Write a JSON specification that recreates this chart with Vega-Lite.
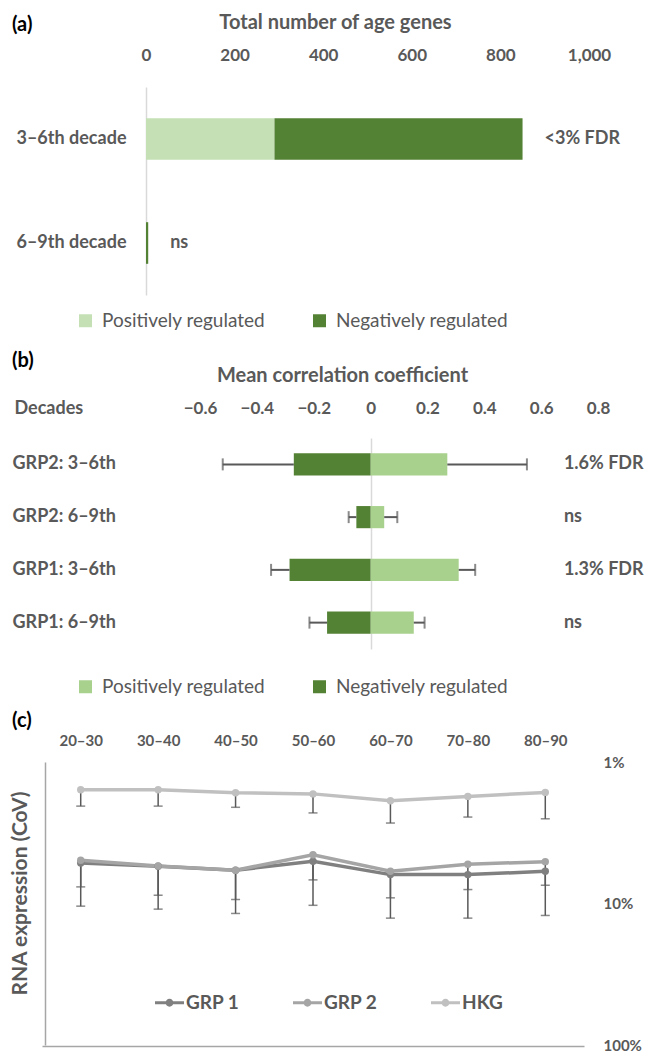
{
  "$schema": "https://vega.github.io/schema/vega-lite/v6.json",
  "background": "white",
  "padding": 0,
  "spacing": 0,
  "bounds": "flush",
  "config": {
    "font": "Lato",
    "view": {"stroke": null},
    "axis": {"grid": false, "ticks": false, "labelFlush": false, "labelColor": "#595959", "titleColor": "#595959", "labelFont": "Lato", "titleFont": "Lato"},
    "legend": {"labelFont": "Lato"},
    "title": {"font": "Lato"}
  },
  "resolve": {
    "scale": {"x": "independent", "y": "independent", "color": "independent"},
    "axis": {"x": "independent", "y": "independent"},
    "legend": {"color": "independent"}
  },
  "vconcat": [
    {
      "width": 646,
      "height": 340,
      "title": {"text": "(a)", "anchor": "start", "frame": "group", "orient": "top", "offset": 0, "dx": 12, "dy": 45, "baseline": "middle", "fontSize": 20, "fontWeight": "bold", "color": "#000000"},
      "layer": [
        {
          "data": {"values": [
            {"decade": "3–6th decade", "reg": "Positively regulated", "n": 290},
            {"decade": "3–6th decade", "reg": "Negatively regulated", "n": 560},
            {"decade": "6–9th decade", "reg": "Positively regulated", "n": 0},
            {"decade": "6–9th decade", "reg": "Negatively regulated", "n": 5}
          ]},
          "mark": {"type": "bar"},
          "encoding": {
            "y": {"field": "decade", "type": "nominal", "sort": ["3–6th decade", "6–9th decade"],
                  "scale": {"range": [87, 295], "paddingInner": 0.6, "paddingOuter": 0.3},
                  "axis": {"orient": "left", "offset": -146, "title": null, "domain": true, "domainColor": "#D9D9D9", "domainWidth": 1.5, "ticks": false, "labelPadding": 20, "labelFontSize": 18, "labelFontWeight": "bold", "labelColor": "#595959"}},
            "x": {"field": "n", "type": "quantitative", "stack": "zero",
                  "scale": {"domain": [0, 1000], "range": [146, 589], "nice": false},
                  "axis": {"orient": "top", "offset": -64, "values": [0, 200, 400, 600, 800, 1000], "labelFlush": false, "domain": false, "ticks": false, "labelPadding": 0, "labelFontSize": 17, "labelFontWeight": "bold", "title": "Total number of age genes", "titleFontSize": 20, "titleFontWeight": "bold", "titlePadding": 14, "titleX": 335}},
            "color": {"field": "reg", "type": "nominal",
                      "scale": {"domain": ["Positively regulated", "Negatively regulated"], "range": ["#C5E0B4", "#548235"]},
                      "legend": {"orient": "none", "legendX": 76, "legendY": 311, "direction": "horizontal", "title": null, "symbolType": "square", "symbolSize": 169, "symbolStrokeWidth": 0, "labelFontSize": 19, "labelColor": "#595959", "labelOffset": 7, "columnPadding": 44, "labelLimit": 300}},
            "order": {"field": "reg", "type": "ordinal", "sort": "descending"}
          }
        },
        {
          "data": {"values": [
            {"decade": "3–6th decade", "total": 850, "sig": "<3% FDR"},
            {"decade": "6–9th decade", "total": 5, "sig": "ns"}
          ]},
          "mark": {"type": "text", "align": "left", "baseline": "middle", "dx": 22, "fontSize": 18, "fontWeight": "bold", "color": "#595959"},
          "encoding": {
            "y": {"field": "decade", "type": "nominal", "sort": ["3–6th decade", "6–9th decade"]},
            "x": {"field": "total", "type": "quantitative"},
            "text": {"field": "sig"}
          }
        }
      ]
    },
    {
      "width": 646,
      "height": 360,
      "title": {"text": "(b)", "anchor": "start", "frame": "group", "orient": "top", "offset": 0, "dx": 12, "dy": 41, "baseline": "middle", "fontSize": 20, "fontWeight": "bold", "color": "#000000"},
      "layer": [
        {
          "data": {"values": [
            {"grp": "GRP2: 3–6th", "reg": "Positively regulated", "r": 0.27, "err": 0.55},
            {"grp": "GRP2: 3–6th", "reg": "Negatively regulated", "r": -0.27, "err": -0.52},
            {"grp": "GRP2: 6–9th", "reg": "Positively regulated", "r": 0.048, "err": 0.094},
            {"grp": "GRP2: 6–9th", "reg": "Negatively regulated", "r": -0.05, "err": -0.077},
            {"grp": "GRP1: 3–6th", "reg": "Positively regulated", "r": 0.31, "err": 0.368},
            {"grp": "GRP1: 3–6th", "reg": "Negatively regulated", "r": -0.285, "err": -0.35},
            {"grp": "GRP1: 6–9th", "reg": "Positively regulated", "r": 0.152, "err": 0.19},
            {"grp": "GRP1: 6–9th", "reg": "Negatively regulated", "r": -0.153, "err": -0.215}
          ]},
          "layer": [
            {
              "mark": {"type": "bar"},
              "encoding": {
                "y": {"field": "grp", "type": "nominal", "sort": ["GRP2: 3–6th", "GRP2: 6–9th", "GRP1: 3–6th", "GRP1: 6–9th"],
                      "scale": {"range": [98, 309], "paddingInner": 0.58, "paddingOuter": 0.29},
                      "axis": {"orient": "left", "offset": -371, "domain": true, "domainColor": "#D9D9D9", "domainWidth": 1.5, "ticks": false, "labelAlign": "left", "labelPadding": 359, "labelFontSize": 18, "labelFontWeight": "bold", "labelColor": "#595959", "title": "Decades", "titleAngle": 0, "titleX": -357, "titleY": 68, "titleAlign": "left", "titleBaseline": "middle", "titleFontSize": 18, "titleFontWeight": "bold"}},
                "x": {"field": "r", "type": "quantitative", "stack": null,
                      "scale": {"domain": [-0.6, 0.8], "range": [200, 598], "nice": false, "zero": false},
                      "axis": {"orient": "top", "offset": -77, "values": [-0.6, -0.4, -0.2, 0, 0.2, 0.4, 0.6, 0.8], "format": "~g", "labelFlush": false, "domain": false, "ticks": false, "labelPadding": 0, "labelFontSize": 17, "labelFontWeight": "bold", "title": "Mean correlation coefficient", "titleFontSize": 20, "titleFontWeight": "bold", "titlePadding": 14, "titleX": 342}},
                "color": {"field": "reg", "type": "nominal",
                          "scale": {"domain": ["Positively regulated", "Negatively regulated"], "range": ["#A9D18E", "#548235"]},
                          "legend": {"orient": "none", "legendX": 76, "legendY": 337, "direction": "horizontal", "title": null, "symbolType": "square", "symbolSize": 169, "symbolStrokeWidth": 0, "labelFontSize": 19, "labelColor": "#595959", "labelOffset": 7, "columnPadding": 44, "labelLimit": 300}}
              }
            },
            {
              "mark": {"type": "rule", "color": "#595959", "strokeWidth": 2},
              "encoding": {
                "y": {"field": "grp", "type": "nominal", "sort": ["GRP2: 3–6th", "GRP2: 6–9th", "GRP1: 3–6th", "GRP1: 6–9th"]},
                "x": {"field": "r", "type": "quantitative"},
                "x2": {"field": "err"}
              }
            },
            {
              "mark": {"type": "tick", "color": "#595959", "thickness": 2, "size": 12},
              "encoding": {
                "y": {"field": "grp", "type": "nominal", "sort": ["GRP2: 3–6th", "GRP2: 6–9th", "GRP1: 3–6th", "GRP1: 6–9th"]},
                "x": {"field": "err", "type": "quantitative"}
              }
            }
          ]
        },
        {
          "data": {"values": [
            {"grp": "GRP2: 3–6th", "sig": "1.6% FDR"},
            {"grp": "GRP2: 6–9th", "sig": "ns"},
            {"grp": "GRP1: 3–6th", "sig": "1.3% FDR"},
            {"grp": "GRP1: 6–9th", "sig": "ns"}
          ]},
          "mark": {"type": "text", "align": "left", "baseline": "middle", "fontSize": 18, "fontWeight": "bold", "color": "#595959"},
          "encoding": {
            "y": {"field": "grp", "type": "nominal", "sort": ["GRP2: 3–6th", "GRP2: 6–9th", "GRP1: 3–6th", "GRP1: 6–9th"]},
            "x": {"datum": 0.68, "type": "quantitative"},
            "text": {"field": "sig"}
          }
        }
      ]
    },
    {
      "width": 646,
      "height": 353,
      "title": {"text": "(c)", "anchor": "start", "frame": "group", "orient": "top", "offset": 0, "dx": 12, "dy": 41, "baseline": "middle", "fontSize": 20, "fontWeight": "bold", "color": "#000000"},
      "data": {"values": [
        {"decade": "20–30", "series": "GRP 1", "cov": 5.17, "err": 7.63},
        {"decade": "30–40", "series": "GRP 1", "cov": 5.46, "err": 8.74},
        {"decade": "40–50", "series": "GRP 1", "cov": 5.82, "err": 9.37},
        {"decade": "50–60", "series": "GRP 1", "cov": 5.03, "err": 6.81},
        {"decade": "60–70", "series": "GRP 1", "cov": 6.25, "err": 9.12},
        {"decade": "70–80", "series": "GRP 1", "cov": 6.25, "err": 7.97},
        {"decade": "80–90", "series": "GRP 1", "cov": 5.92, "err": 7.43},
        {"decade": "20–30", "series": "GRP 2", "cov": 4.95, "err": 10.44},
        {"decade": "30–40", "series": "GRP 2", "cov": 5.43, "err": 10.96},
        {"decade": "40–50", "series": "GRP 2", "cov": 5.82, "err": 11.76},
        {"decade": "50–60", "series": "GRP 2", "cov": 4.52, "err": 10.3},
        {"decade": "60–70", "series": "GRP 2", "cov": 5.92, "err": 12.69},
        {"decade": "70–80", "series": "GRP 2", "cov": 5.28, "err": 12.69},
        {"decade": "80–90", "series": "GRP 2", "cov": 5.06, "err": 12.15},
        {"decade": "20–30", "series": "HKG", "cov": 1.57, "err": 2.05},
        {"decade": "30–40", "series": "HKG", "cov": 1.57, "err": 2.05},
        {"decade": "40–50", "series": "HKG", "cov": 1.65, "err": 2.09},
        {"decade": "50–60", "series": "HKG", "cov": 1.68, "err": 2.29},
        {"decade": "60–70", "series": "HKG", "cov": 1.88, "err": 2.7},
        {"decade": "70–80", "series": "HKG", "cov": 1.75, "err": 2.45},
        {"decade": "80–90", "series": "HKG", "cov": 1.64, "err": 2.52}
      ]},
      "resolve": {"axis": {"x": "independent", "y": "independent"}},
      "layer": [
        {
          "mark": {"type": "rule", "color": "#595959", "strokeWidth": 1.5},
          "encoding": {
            "x": {"field": "decade", "type": "ordinal", "scale": {"type": "point", "range": [42, 584], "padding": 0.5},
                  "axis": {"orient": "bottom", "offset": -7, "labels": false, "ticks": false, "domain": true, "domainColor": "#A6A6A6", "domainWidth": 1.5, "title": null}},
            "y": {"field": "cov", "type": "quantitative", "scale": {"type": "log", "domain": [1, 100], "range": [62, 345], "nice": false},
                  "axis": {"orient": "left", "offset": -45, "labels": false, "ticks": false, "domain": true, "domainColor": "#A6A6A6", "domainWidth": 1.5, "title": "RNA expression (CoV)", "titleX": -25, "titleY": 193, "titleAngle": -90, "titleAlign": "center", "titleBaseline": "middle", "titleFontSize": 21, "titleFontWeight": "bold"}},
            "y2": {"field": "err"}
          }
        },
        {
          "mark": {"type": "tick", "color": "#595959", "thickness": 1.5, "size": 9},
          "encoding": {
            "x": {"field": "decade", "type": "ordinal", "axis": null},
            "y": {"field": "err", "type": "quantitative", "axis": null}
          }
        },
        {
          "mark": {"type": "line", "strokeWidth": 3.5},
          "encoding": {
            "x": {"field": "decade", "type": "ordinal",
                  "axis": {"orient": "top", "offset": -48, "labelPadding": 0, "ticks": false, "domain": false, "labelAngle": 0, "labelFontSize": 15, "labelFontWeight": "bold", "labelColor": "#595959", "title": null}},
            "y": {"field": "cov", "type": "quantitative",
                  "axis": {"orient": "right", "offset": -46, "values": [1, 10, 100], "labelExpr": "datum.value + '%'", "labelAlign": "left", "labelPadding": 3, "ticks": false, "domain": false, "labelFontSize": 15, "labelFontWeight": "bold", "labelColor": "#595959", "title": null}},
            "color": {"field": "series", "type": "nominal"}
          }
        },
        {
          "mark": {"type": "point", "filled": true, "opacity": 1, "size": 55},
          "encoding": {
            "x": {"field": "decade", "type": "ordinal", "axis": null},
            "y": {"field": "cov", "type": "quantitative", "axis": null},
            "color": {"field": "series", "type": "nominal", "scale": {"domain": ["GRP 1", "GRP 2", "HKG"], "range": ["#808080", "#A5A5A5", "#C0C0C0"]},
                      "legend": {"orient": "none", "legendX": 155, "legendY": 288, "direction": "horizontal", "title": null, "symbolType": "M-1,-0.1L1,-0.1L1,0.1L-1,0.1Z M0.27,0A0.27,0.27,0,1,1,-0.27,0A0.27,0.27,0,1,1,0.27,0Z", "symbolSize": 841, "symbolStrokeWidth": 0, "symbolOpacity": 1, "labelFontSize": 19, "labelFontWeight": "bold", "labelColor": "#595959", "labelOffset": 2, "columnPadding": 53, "gridAlign": "all"}}
          }
        }
      ]
    }
  ]
}
